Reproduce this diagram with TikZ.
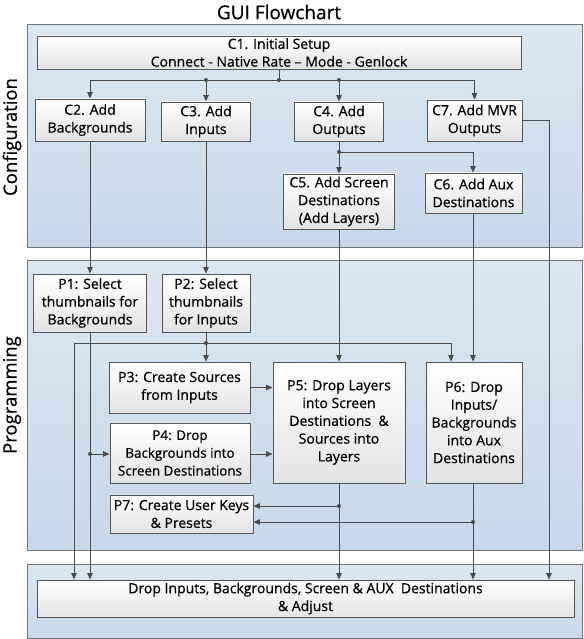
\documentclass[tikz,border=0pt]{standalone}
\usepackage{fontspec}
\setmainfont{Open Sans}
\newfontfamily\boxfont{Open Sans}[FakeBold=0.6]
\usetikzlibrary{arrows.meta}
\definecolor{panelA}{HTML}{DCE7F2}
\definecolor{panelB}{HTML}{C6D8EA}
\definecolor{panelline}{HTML}{6E737A}
\definecolor{boxline}{HTML}{555555}
\definecolor{wire}{HTML}{4A4A4A}
\tikzset{
  panel/.style={draw=panelline, line width=1pt, top color=panelA, bottom color=panelB},
  box/.style={draw=boxline, line width=0.9pt, top color=white, bottom color=black!11,
    align=center, inner sep=0pt, font=\boxfont\fontsize{14}{17.8}\selectfont, text=black},
  smallbox/.style={box, font=\boxfont\fontsize{13.4}{17.8}\selectfont},
  wirestyle/.style={draw=wire, line width=0.9pt},
  arr/.style={wirestyle, -{Triangle[length=6.5pt,width=5.5pt]}},
  sidelabel/.style={font=\boxfont\fontsize{18.5}{22}\selectfont, rotate=90},
}
\newcommand{\jdot}[1]{\fill[wire] #1 circle (2pt);}
\begin{document}
\begin{tikzpicture}[x=1pt,y=-1pt]
\useasboundingbox (0,0) rectangle (583,639);
% panels
\path[panel] (27,25) rectangle (582.5,247);
\path[panel] (27,260) rectangle (582.5,550);
\path[panel] (27,564) rectangle (582.5,638);
% titles
\node[font=\boxfont\fontsize{19}{22}\selectfont] (title) at (279,12) {GUI Flowchart};
\node[sidelabel] (lconf) at (12,137) {Configuration};
\node[sidelabel] (lprog) at (12,395) {Programming};
% boxes
\node[box, minimum width=484, minimum height=33] (C1) at (279,52.5) {C1. Initial Setup\\Connect - Native Rate – Mode - Genlock};
\node[box, minimum width=110, minimum height=42] (C2) at (90,120) {C2. Add\\Backgrounds};
\node[box, minimum width=89, minimum height=39] (C3) at (206,121.5) {C3. Add\\Inputs};
\node[box, minimum width=89, minimum height=39] (C4) at (339,121.5) {C4. Add\\Outputs};
\node[box, minimum width=95, minimum height=41] (C7) at (474.5,120.5) {C7. Add MVR\\Outputs};
\node[box, minimum width=111, minimum height=55] (C5) at (339,201.5) {C5. Add Screen\\Destinations\\(Add Layers)};
\node[box, minimum width=97, minimum height=40] (C6) at (473.5,193) {C6. Add Aux\\Destinations};
\node[box, minimum width=113, minimum height=58] (P1) at (90,303) {P1: Select\\thumbnails for\\Backgrounds};
\node[box, minimum width=88, minimum height=58] (P2) at (206,303) {P2: Select\\thumbnails\\for Inputs};
\node[box, minimum width=141, minimum height=51] (P3) at (179.5,387.5) {P3: Create Sources\\from Inputs};
\node[smallbox, minimum width=140, minimum height=60] (P4) at (180,453) {P4: Drop\\Backgrounds into\\Screen Destinations};
\node[box, minimum width=132, minimum height=121] (P5) at (339,422.5) {P5: Drop Layers\\into Screen\\Destinations~~\&\\Sources into\\Layers};
\node[box, minimum width=96, minimum height=121] (P6) at (474,422.5) {P6: Drop\\Inputs/\\Backgrounds\\into Aux\\Destinations};
\node[box, minimum width=143, minimum height=38] (P7) at (181.5,514) {P7: Create User Keys\\\& Presets};
\node[box, minimum width=537, minimum height=37] (F) at (305.5,598.5) {Drop Inputs, Backgrounds, Screen \& AUX~~Destinations\\\& Adjust};
% coordinates
\coordinate (j1) at (279,80);
\coordinate (j4) at (339,152);
\coordinate (c7r) at (549,120.5);
\coordinate (j2) at (206,343);
\coordinate (j2l) at (74,343);
\coordinate (j2r) at (451,343);
\coordinate (jp1) at (90,454);
\coordinate (jp5) at (339,506);
\coordinate (jp6) at (473,522);
% C1 fan-out
\draw[wirestyle] (C1.south -| j1) -- (j1);
\draw[arr] (j1) -| (C2);
\draw[arr] (j1) -| (C3);
\draw[arr] (j1) -| (C4);
\draw[arr] (j1) -| (C7);
\jdot{(j1)} \jdot{(C3 |- j1)} \jdot{(C4 |- j1)}
% C4 fan-out
\draw[wirestyle] (C4) -- (j4);
\draw[arr] (j4) -- (C5);
\draw[arr] (j4) -| (C6.north -| jp6);
\jdot{(j4)}
% C7 to final
\draw[arr] (C7.east) -- (c7r) -- (c7r |- F.north);
% config to programming
\draw[arr] (C2) -- (P1);
\draw[arr] (C3) -- (P2);
\draw[arr] (C5) -- (P5);
\draw[arr] (C6.south -| jp6) -- (P6.north -| jp6);
% P2 junction
\draw[wirestyle] (P2) -- (j2);
\draw[arr] (j2) -- (P3.north -| j2);
\draw[arr] (j2l) -- (j2r) -- (P6.north -| j2r);
\draw[arr] (j2l) -- (j2l |- F.north);
\jdot{(j2)}
% P1 line
\draw[arr] (P1) -- (P1.south |- F.north);
\draw[arr] (jp1) -- (P4.west |- jp1);
\jdot{(jp1)}
% P3/P4 into P5
\draw[arr] (P3.east) -- (P5.west |- P3.east);
\draw[arr] (P4.east |- jp1) -- (P5.west |- jp1);
% P5, P6 down
\draw[arr] (P5) -- (P5.south |- F.north);
\draw[arr] (P6.south -| jp6) -- (jp6 |- F.north);
\draw[arr] (jp5) -- (P7.east |- jp5);
\draw[arr] (jp6) -- (P7.east |- jp6);
\jdot{(jp5)} \jdot{(jp6)}
\end{tikzpicture}
\end{document}
